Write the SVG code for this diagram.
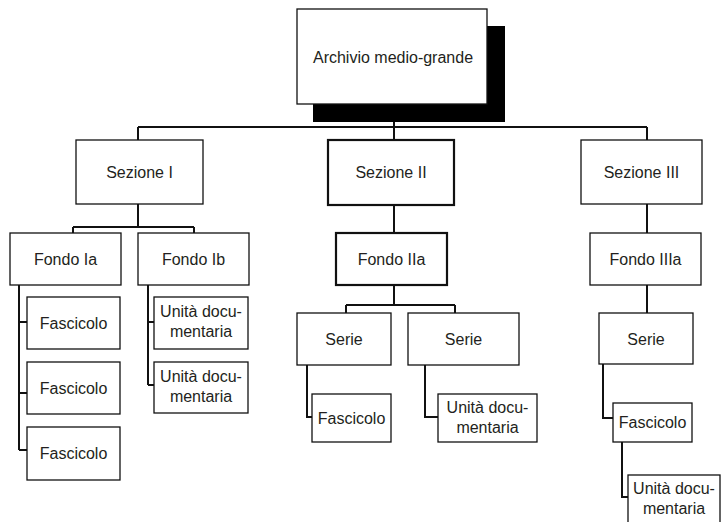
<svg xmlns="http://www.w3.org/2000/svg" width="725" height="522" viewBox="0 0 725 522">
<style>
.b{fill:#fff;stroke:#111;stroke-width:1.3}
.bb{fill:#fff;stroke:#111;stroke-width:2.2}
.t{font-family:"Liberation Sans",Arial,sans-serif;font-size:16px;fill:#231f20;text-anchor:middle}
.c{fill:none;stroke:#111;stroke-width:2}
</style>
<rect width="725" height="522" fill="#fff"/>
<g id="connectors">
<path class="c" d="M394 122V127M138 127H647M138 127V140M394 127V140M647 127V140"/>
<path class="c" d="M138 204V227M73 227H194M73 227V233M194 227V233"/>
<path class="c" d="M19 285V450M19 322H27M19 393H27M19 450H27"/>
<path class="c" d="M148 285V385M148 322H154M148 385H154"/>
<path class="c" d="M394 205V233M394 285V305M346 305H455M346 305V313M455 305V313"/>
<path class="c" d="M307 365V417H312M425 365V417H438"/>
<path class="c" d="M647 204V233M647 285V313M603 364V418H613M622 442V497H628"/>
</g>
<g id="root">
<rect x="313" y="26" width="192" height="96" fill="#000"/>
<rect class="b" x="297" y="9" width="190" height="95"/>
<text class="t" x="393" y="63">Archivio medio-grande</text>
</g>
<g id="sezione-1"><rect class="b" x="76" y="140" width="127" height="64"/><text class="t" x="139.5" y="178">Sezione I</text></g>
<g id="sezione-2"><rect class="bb" x="328" y="140" width="126" height="65"/><text class="t" x="391" y="178">Sezione II</text></g>
<g id="sezione-3"><rect class="b" x="581" y="140" width="121" height="64"/><text class="t" x="641.5" y="178">Sezione III</text></g>
<g id="fondo-1a"><rect class="b" x="10" y="233" width="111" height="52"/><text class="t" x="65.5" y="265">Fondo Ia</text></g>
<g id="fondo-1b"><rect class="b" x="138" y="233" width="111" height="52"/><text class="t" x="193.5" y="265">Fondo Ib</text></g>
<g id="fondo-2a"><rect class="bb" x="336" y="233" width="111" height="52"/><text class="t" x="391.5" y="265">Fondo IIa</text></g>
<g id="fondo-3a"><rect class="b" x="590" y="233" width="111" height="52"/><text class="t" x="645.5" y="265">Fondo IIIa</text></g>
<g id="fasc-1a-1"><rect class="b" x="27" y="297" width="93" height="52"/><text class="t" x="73.5" y="329">Fascicolo</text></g>
<g id="fasc-1a-2"><rect class="b" x="27" y="362" width="93" height="52"/><text class="t" x="73.5" y="394">Fascicolo</text></g>
<g id="fasc-1a-3"><rect class="b" x="27" y="427" width="93" height="53"/><text class="t" x="73.5" y="459">Fascicolo</text></g>
<g id="unita-1b-1"><rect class="b" x="154" y="297" width="94" height="52"/><text class="t" x="201" y="317">Unità docu-</text><text class="t" x="201" y="337">mentaria</text></g>
<g id="unita-1b-2"><rect class="b" x="154" y="362" width="94" height="51"/><text class="t" x="201" y="382">Unità docu-</text><text class="t" x="201" y="402">mentaria</text></g>
<g id="serie-2-1"><rect class="b" x="297" y="313" width="94" height="52"/><text class="t" x="344" y="345">Serie</text></g>
<g id="serie-2-2"><rect class="b" x="408" y="313" width="111" height="52"/><text class="t" x="463.5" y="345">Serie</text></g>
<g id="fasc-2"><rect class="b" x="312" y="394" width="79" height="48"/><text class="t" x="351.5" y="424">Fascicolo</text></g>
<g id="unita-2"><rect class="b" x="438" y="394" width="99" height="48"/><text class="t" x="487.5" y="413">Unità docu-</text><text class="t" x="487.5" y="433">mentaria</text></g>
<g id="serie-3"><rect class="b" x="599" y="313" width="94" height="51"/><text class="t" x="646" y="345">Serie</text></g>
<g id="fasc-3"><rect class="b" x="613" y="403" width="79" height="39"/><text class="t" x="652.5" y="428">Fascicolo</text></g>
<g id="unita-3"><rect class="b" x="628" y="475" width="92" height="55"/><text class="t" x="674" y="494">Unità docu-</text><text class="t" x="674" y="514">mentaria</text></g>
</svg>
